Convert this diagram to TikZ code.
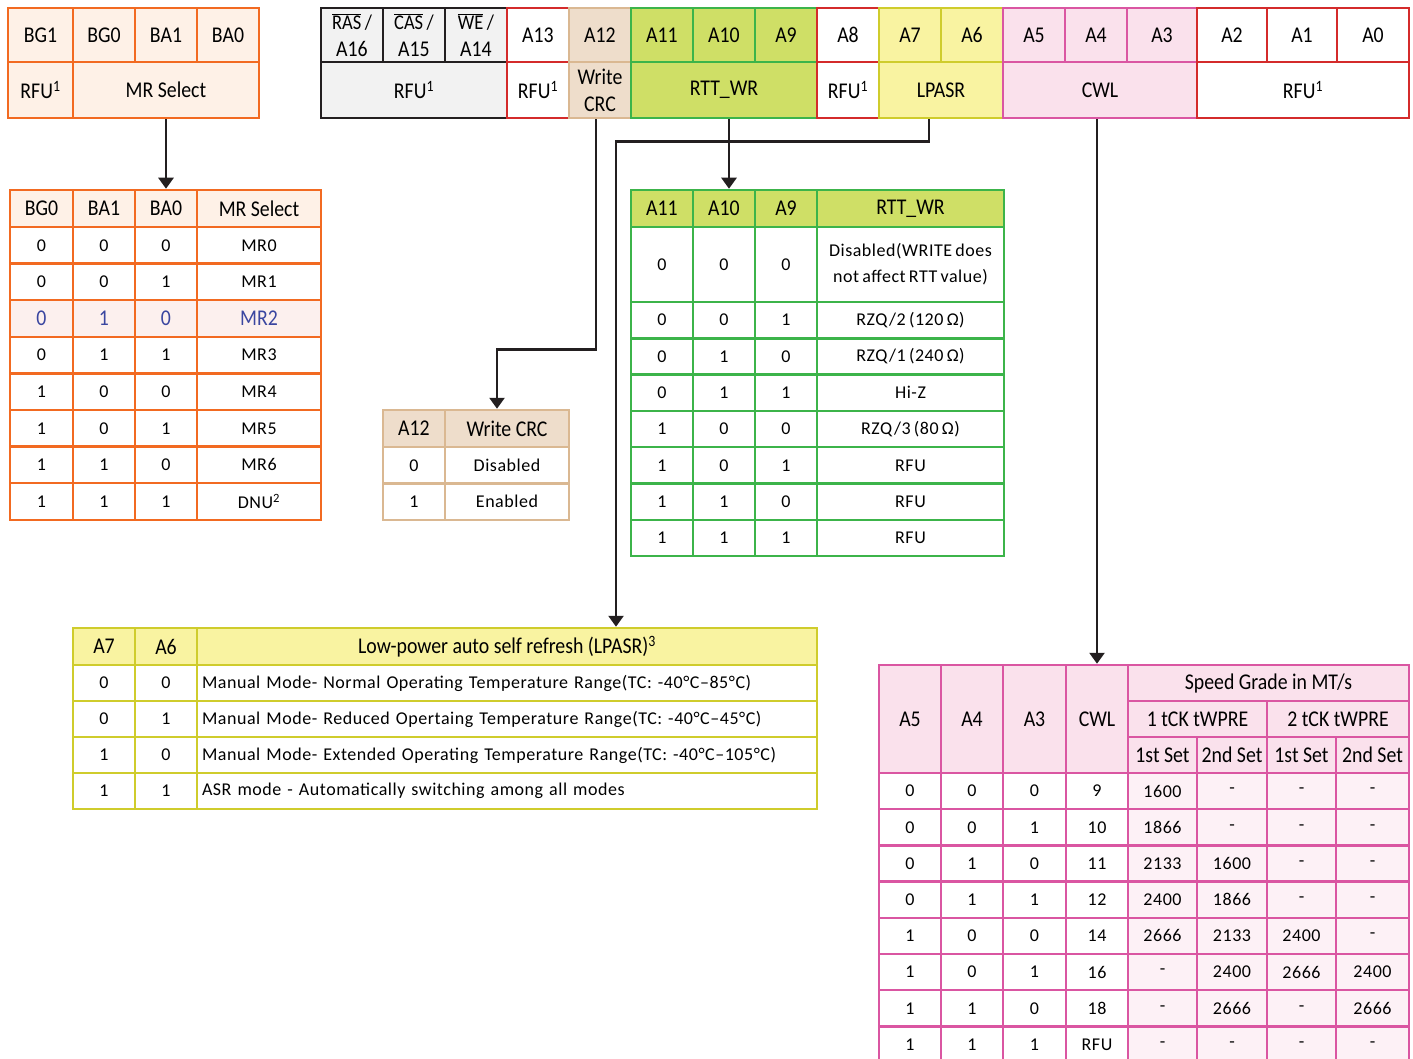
\documentclass[tikz,border=0pt]{standalone}
\usepackage{fontspec}
\setmainfont{Carlito}
\newfontfamily\hdfam[FakeStretch=0.88]{Carlito}
\newfontfamily\datafam[LetterSpace=3,WordSpace=0.7]{Carlito}
\usepackage{xcolor}
\usepackage{tikz}
\usetikzlibrary{arrows.meta}

\definecolor{mrline}{HTML}{F26A21}
\definecolor{mrfill}{HTML}{FEF1E7}
\definecolor{mrpink}{HTML}{FCF0EE}
\definecolor{mrblue}{HTML}{3A46A0}
\definecolor{rfuline}{HTML}{231F20}
\definecolor{rfufill}{HTML}{F2F2F2}
\definecolor{redline}{HTML}{D42B2B}
\definecolor{crcline}{HTML}{DAB892}
\definecolor{crcfill}{HTML}{EEDDCB}
\definecolor{rttline}{HTML}{3CB44A}
\definecolor{rttfill}{HTML}{CFDF66}
\definecolor{lpline}{HTML}{CFCC2C}
\definecolor{lpfill}{HTML}{F9F3A1}
\definecolor{cwline}{HTML}{DA56A2}
\definecolor{cwfill}{HTML}{FAE1EC}
\definecolor{cwpale}{HTML}{FDF1F6}
\definecolor{wirecol}{HTML}{231F20}

\newcommand\datafont{\datafam\fontsize{18}{26}\selectfont}
\newcommand\hdfont{\hdfam\fontsize{22.5}{27}\selectfont}
\newcommand\smfont{\fontsize{21}{21}\selectfont}

\tikzset{
  sz/.style 2 args={minimum width=#1pt, minimum height=#2pt},
  cell/.style={draw, line width=2.5pt, inner sep=0pt, align=center, font=\datafont},
  hd/.style={cell, font=\hdfont},
  reggray/.style={hd, draw=rfuline, fill=rfufill},
  regred/.style={hd, draw=redline, fill=white},
  regcrc/.style={hd, draw=crcline, fill=crcfill},
  regrtt/.style={hd, draw=rttline, fill=rttfill},
  reglp/.style={hd, draw=lpline, fill=lpfill},
  regcw/.style={hd, draw=cwline, fill=cwfill},
  mrhd/.style={hd, draw=mrline, fill=mrfill},
  mrcell/.style={cell, draw=mrline, fill=white},
  mrpick/.style={mrcell, fill=mrpink, text=mrblue, font=\hdfont},
  crchd/.style={hd, draw=crcline, fill=crcfill},
  crccell/.style={cell, draw=crcline, fill=white},
  rtthd/.style={hd, draw=rttline, fill=rttfill},
  rttcell/.style={cell, draw=rttline, fill=white},
  lphd/.style={hd, draw=lpline, fill=lpfill},
  lpcell/.style={cell, draw=lpline, fill=white},
  cwhd/.style={hd, draw=cwline, fill=cwfill},
  cwcell/.style={cell, draw=cwline, fill=white},
  cwpcell/.style={cell, draw=cwline, fill=cwpale},
  link/.style={draw=wirecol, line width=2.6pt, -{Triangle[width=15pt,length=11pt]}}
}

\begin{document}
\begin{tikzpicture}[x=1pt,y=-1pt]
\useasboundingbox (0,0) rectangle (1413,1059);

% bank group / bank address
\node[mrhd, sz={65}{54}] (bg1) at (40.5,35) {BG1};
\node[mrhd, sz={62}{54}] (bg0) at (104,35) {BG0};
\node[mrhd, sz={62}{54}] (ba1) at (166,35) {BA1};
\node[mrhd, sz={62}{54}] (ba0) at (228,35) {BA0};
\node[mrhd, sz={65}{56}] (rfu0) at (40.5,90) {RFU\textsuperscript{1}};
\node[mrhd, sz={186}{56}] (mrsel) at (166,90) {MR Select};

% address bits
\node[reggray, sz={62}{54}] (ras) at (352,35) {{\smfont$\overline{\hbox{RAS}}$\,/}\\A16};
\node[reggray, sz={62}{54}] (cas) at (414,35) {{\smfont$\overline{\hbox{CAS}}$\,/}\\A15};
\node[reggray, sz={62}{54}] (we) at (476,35) {{\smfont$\overline{\hbox{WE}}$\,/}\\A14};
\foreach \n/\cx/\w/\s/\t in {a13/538/62/regred/A13, a12/600/62/regcrc/A12,
    a11/662/62/regrtt/A11, a10/724/62/regrtt/A10, a9/786/62/regrtt/A9,
    a8/848/62/regred/A8, a7/910/62/reglp/A7, a6/972/62/reglp/A6,
    a5/1034/62/regcw/A5, a4/1096/62/regcw/A4, a3/1162/70/regcw/A3,
    a2/1232/70/regred/A2, a1/1302/70/regred/A1, a0/1373/72/regred/A0}
  \node[\s, sz={\w}{54}] (\n) at (\cx,35) {\t};

\node[reggray, sz={186}{56}] (rfu1) at (414,90) {RFU\textsuperscript{1}};
\node[regred, sz={62}{56}] (rfu2) at (538,90) {RFU\textsuperscript{1}};
\node[regcrc, sz={62}{56}] (wcrc) at (600,90) {Write\\CRC};
\node[regrtt, sz={186}{56}] (rtt) at (724,90) {RTT\_WR};
\node[regred, sz={62}{56}] (rfu3) at (848,90) {RFU\textsuperscript{1}};
\node[reglp, sz={124}{56}] (lpasr) at (941,90) {LPASR};
\node[regcw, sz={194}{56}] (cwl) at (1100,90) {CWL};
\node[regred, sz={212}{56}] (rfu4) at (1303,90) {RFU\textsuperscript{1}};

% MR select table
\node[mrhd, sz={63}{37}] (mr-h1) at (41.5,208.5) {BG0};
\node[mrhd, sz={62}{37}] (mr-h2) at (104,208.5) {BA1};
\node[mrhd, sz={62}{37}] (mr-h3) at (166,208.5) {BA0};
\node[mrhd, sz={124}{37}] (mr-h4) at (259,208.5) {MR Select};
\foreach \a/\b/\c/\m/\s [count=\k] in {0/0/0/MR0/mrcell, 0/0/1/MR1/mrcell,
    0/1/0/MR2/mrpick, 0/1/1/MR3/mrcell, 1/0/0/MR4/mrcell, 1/0/1/MR5/mrcell,
    1/1/0/MR6/mrcell, 1/1/1/DNU\textsuperscript{2}/mrcell}{
  \pgfmathsetmacro\yy{227+36.6*(\k-0.5)}
  \node[\s, sz={63}{36.6}] (mr-\k-1) at (41.5,\yy) {\a};
  \node[\s, sz={62}{36.6}] (mr-\k-2) at (104,\yy) {\b};
  \node[\s, sz={62}{36.6}] (mr-\k-3) at (166,\yy) {\c};
  \node[\s, sz={124}{36.6}] (mr-\k-4) at (259,\yy) {\m};
}

% write CRC table
\node[crchd, sz={62}{37}] (crc-h1) at (414,428.5) {A12};
\node[crchd, sz={124}{37}] (crc-h2) at (507,428.5) {Write CRC};
\foreach \v/\t [count=\k] in {0/Disabled, 1/Enabled}{
  \pgfmathsetmacro\yy{447+36.5*(\k-0.5)}
  \node[crccell, sz={62}{36.5}] (crc-\k-1) at (414,\yy) {\v};
  \node[crccell, sz={124}{36.5}] (crc-\k-2) at (507,\yy) {\t};
}

% RTT_WR table
\node[rtthd, sz={62}{37}] (rt-h1) at (662,208.5) {A11};
\node[rtthd, sz={62}{37}] (rt-h2) at (724,208.5) {A10};
\node[rtthd, sz={62}{37}] (rt-h3) at (786,208.5) {A9};
\node[rtthd, sz={187}{37}] (rt-h4) at (910.5,208.5) {RTT\_WR};
\node[rttcell, sz={62}{75}] (rt-0-1) at (662,264.5) {0};
\node[rttcell, sz={62}{75}] (rt-0-2) at (724,264.5) {0};
\node[rttcell, sz={62}{75}] (rt-0-3) at (786,264.5) {0};
\node[rttcell, sz={187}{75}] (rt-0-4) at (910.5,264.5) {Disabled(WRITE does\\not affect RTT value)};
\foreach \a/\b/\c/\m [count=\k] in {0/0/1/{RZQ/2 (120 Ω)}, 0/1/0/{RZQ/1 (240 Ω)},
    0/1/1/Hi-Z, 1/0/0/{RZQ/3 (80 Ω)}, 1/0/1/RFU, 1/1/0/RFU, 1/1/1/RFU}{
  \pgfmathsetmacro\yy{302+36.3*(\k-0.5)}
  \node[rttcell, sz={62}{36.3}] (rt-\k-1) at (662,\yy) {\a};
  \node[rttcell, sz={62}{36.3}] (rt-\k-2) at (724,\yy) {\b};
  \node[rttcell, sz={62}{36.3}] (rt-\k-3) at (786,\yy) {\c};
  \node[rttcell, sz={187}{36.3}] (rt-\k-4) at (910.5,\yy) {\m};
}

% LPASR table
\node[lphd, sz={62}{37}] (lp-h1) at (104,646.5) {A7};
\node[lphd, sz={62}{37}] (lp-h2) at (166,646.5) {A6};
\node[lphd, sz={620}{37}] (lp-h3) at (507,646.5) {Low-power auto self refresh (LPASR)\textsuperscript{3}};
\foreach \a/\b/\m [count=\k] in {
    0/0/Manual Mode- Normal Operating Temperature Range(TC: -40°C–85°C),
    0/1/Manual Mode- Reduced Opertaing Temperature Range(TC: -40°C–45°C),
    1/0/Manual Mode- Extended Operating Temperature Range(TC: -40°C–105°C),
    1/1/ASR mode - Automatically switching among all modes}{
  \pgfmathsetmacro\yy{665+36*(\k-0.5)}
  \node[lpcell, sz={62}{36}] (lp-\k-1) at (104,\yy) {\a};
  \node[lpcell, sz={62}{36}] (lp-\k-2) at (166,\yy) {\b};
  \node[lpcell, sz={620}{36}, text width=610pt, align=left] (lp-\k-3) at (507,\yy) {\m};
}

% CWL table
\node[cwhd, sz={62}{108}] (cw-h1) at (910,719) {A5};
\node[cwhd, sz={62}{108}] (cw-h2) at (972,719) {A4};
\node[cwhd, sz={63}{108}] (cw-h3) at (1034.5,719) {A3};
\node[cwhd, sz={62}{108}] (cw-h4) at (1097,719) {CWL};
\node[cwhd, sz={281}{36}] (cw-sg) at (1268.5,683) {Speed Grade in MT/s};
\node[cwhd, sz={139}{36}] (cw-t1) at (1197.5,719) {1 tCK tWPRE};
\node[cwhd, sz={142}{36}] (cw-t2) at (1338,719) {2 tCK tWPRE};
\node[cwhd, sz={69}{36}] (cw-s1) at (1162.5,755) {1st Set};
\node[cwhd, sz={70}{36}] (cw-s2) at (1232,755) {2nd Set};
\node[cwhd, sz={69}{36}] (cw-s3) at (1301.5,755) {1st Set};
\node[cwhd, sz={73}{36}] (cw-s4) at (1372.5,755) {2nd Set};
\foreach \pa/\pb/\pc/\cl/\ga/\gb/\gc/\gd [count=\k] in {
    0/0/0/9/1600/-/-/-, 0/0/1/10/1866/-/-/-, 0/1/0/11/2133/1600/-/-,
    0/1/1/12/2400/1866/-/-, 1/0/0/14/2666/2133/2400/-,
    1/0/1/16/-/2400/2666/2400, 1/1/0/18/-/2666/-/2666, 1/1/1/RFU/-/-/-/-}{
  \pgfmathsetmacro\yy{773+36.2*(\k-0.5)}
  \node[cwcell, sz={62}{36.2}] (cw-\k-1) at (910,\yy) {\pa};
  \node[cwcell, sz={62}{36.2}] (cw-\k-2) at (972,\yy) {\pb};
  \node[cwcell, sz={63}{36.2}] (cw-\k-3) at (1034.5,\yy) {\pc};
  \node[cwcell, sz={62}{36.2}] (cw-\k-4) at (1097,\yy) {\cl};
  \node[cwpcell, sz={69}{36.2}] (cw-\k-5) at (1162.5,\yy) {\ga};
  \node[cwpcell, sz={70}{36.2}] (cw-\k-6) at (1232,\yy) {\gb};
  \node[cwpcell, sz={69}{36.2}] (cw-\k-7) at (1301.5,\yy) {\gc};
  \node[cwpcell, sz={73}{36.2}] (cw-\k-8) at (1372.5,\yy) {\gd};
}

% arrows
\draw[link] (mrsel.south) -- (mr-h3.north);
\draw[link] ([xshift=5pt]rtt.south) -- ([xshift=5pt]rt-h2.north);
\draw[link] (cw-h4.north |- cwl.south) -- (cw-h4.north);
\draw[link] ([xshift=-4pt]wcrc.south) -- ++(0,230) -| ([xshift=-10pt]crc-h2.north);
\draw[link] ([xshift=-12pt]lpasr.south) -- ++(0,22) -| ([xshift=109pt]lp-h3.north);
\end{tikzpicture}
\end{document}
